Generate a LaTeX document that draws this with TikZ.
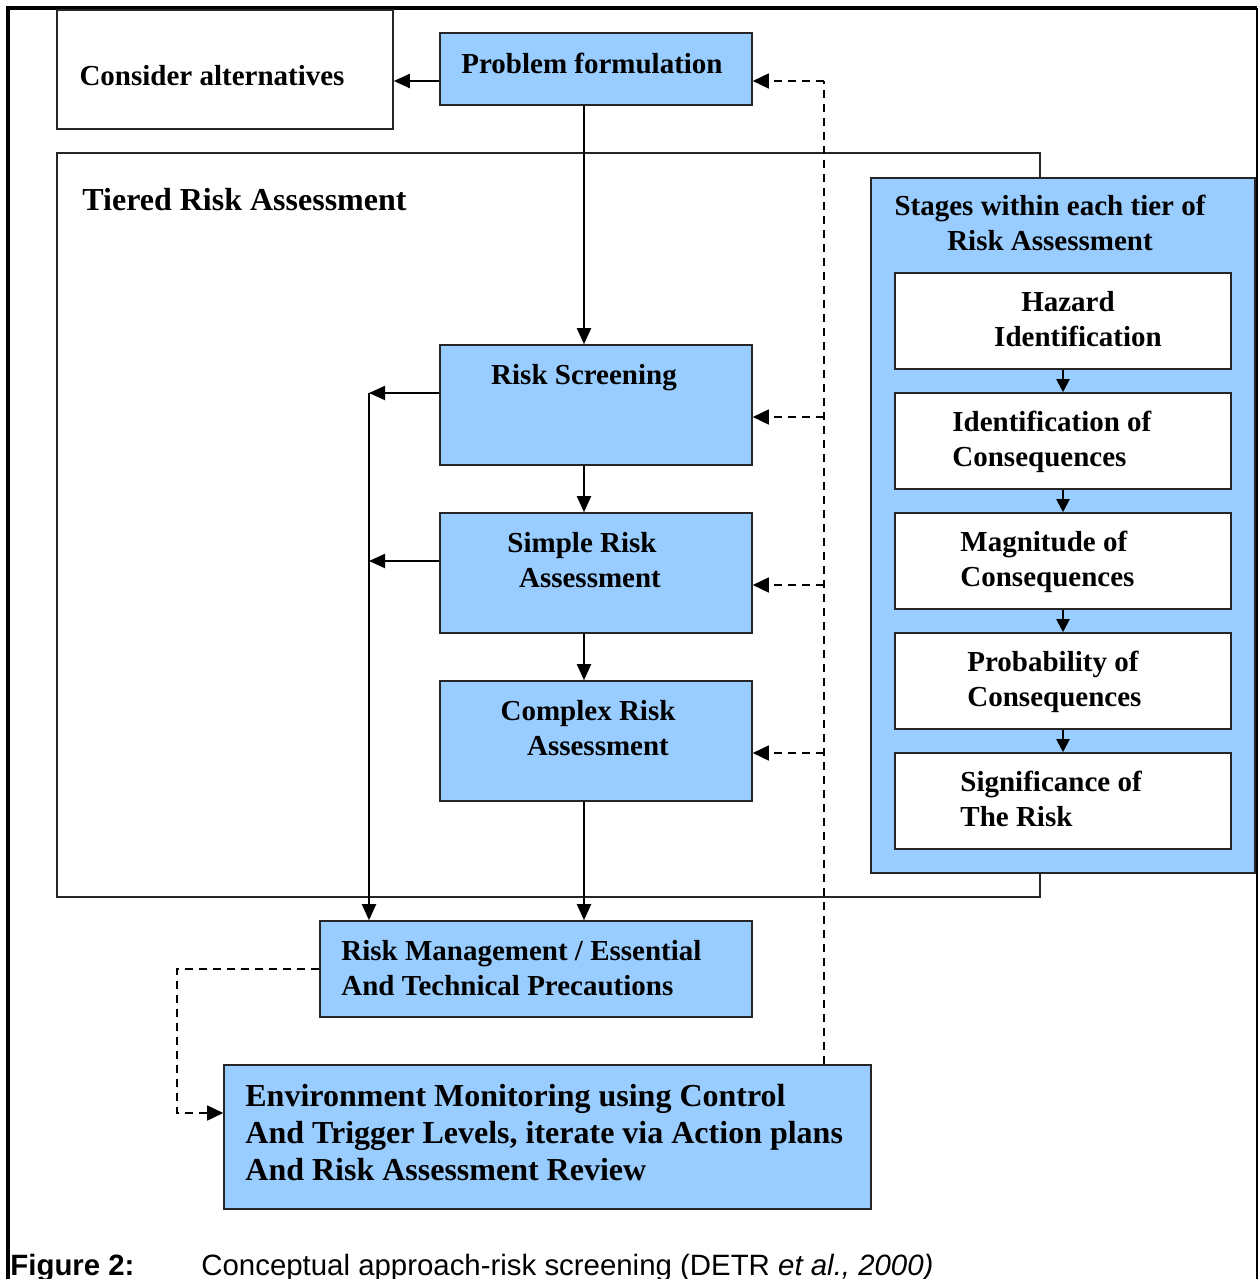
\documentclass[tikz,border=0pt]{standalone}
\usepackage{fontspec}
\setmainfont{Liberation Serif}
\setsansfont{Liberation Sans}
\usetikzlibrary{arrows.meta,calc}
\definecolor{boxblue}{RGB}{153,204,255}
\tikzset{
  frameline/.style={line width=1.6pt},
  bluebox/.style={draw=black!85, line width=0.8pt, fill=boxblue, inner sep=0pt},
  whitebox/.style={draw=black!85, line width=0.8pt, fill=white, inner sep=0pt},
  txt/.style={font=\bfseries\fontsize{14.5}{17.5}\selectfont, inner sep=0pt},
  bigtxt/.style={font=\bfseries\fontsize{16}{18.5}\selectfont, inner sep=0pt},
  arr/.style={line width=1pt, -{Triangle[length=8pt,width=7pt]}},
  smallarr/.style={line width=1pt, -{Triangle[length=6.5pt,width=6.5pt]}},
  dasharr/.style={line width=0.8pt, dash pattern=on 4pt off 3pt, -{Triangle[length=8pt,width=7.5pt]}},
  dashline/.style={line width=0.8pt, dash pattern=on 4pt off 3pt},
  captxt/.style={font=\sffamily\fontsize{14.7}{17}\selectfont, inner sep=0pt, anchor=base west}
}
\begin{document}
\begin{tikzpicture}[x=0.5pt,y=-0.5pt]
\useasboundingbox (0,0) rectangle (1258,1279);
% outer frame
\draw[frameline] (8,1279) -- (8,8) -- (1257,8);
\draw[line width=1pt] (1257,8) -- (1257,1279);

% tiered container
\draw[line width=0.8pt, draw=black!85] (57,153) rectangle (1040,897);
\node[bigtxt, anchor=west] (tiered) at (82,200) {Tiered Risk Assessment};

% stages container
\draw[line width=0.8pt, draw=black!85, fill=boxblue] (871,178) rectangle (1255,873);
\node[txt, align=center] (stagestitle) at (1050,223) {Stages within each tier of\\Risk Assessment};

% top boxes
\node[whitebox, minimum width=168pt, minimum height=59.5pt] (ca) at (225,69.5) {};
\node[txt] (catxt) at (212,76) {Consider alternatives};
\node[bluebox, minimum width=156pt, minimum height=36pt] (pf) at (596,69) {};
\node[txt] (pftxt) at (592,63) {Problem formulation};

% tiers
\node[bluebox, minimum width=156pt, minimum height=60pt] (rs) at (596,405) {};
\node[txt] (rstxt) at (584,378) {Risk Screening};
\node[bluebox, minimum width=156pt, minimum height=60pt] (sra) at (596,573) {};
\node[txt, align=center] (sratxt) at (582,560) {Simple Risk\\\hspace*{8pt}Assessment};
\node[bluebox, minimum width=156pt, minimum height=60pt] (cra) at (596,741) {};
\node[txt, align=center] (cratxt) at (588,728) {Complex Risk\\\hspace*{10pt}Assessment};

% risk management & environment
\node[bluebox, minimum width=216pt, minimum height=48pt] (rm) at (536,969) {};
\node[txt, align=left, anchor=west] (rmtxt) at (341,968) {Risk Management / Essential\\And Technical Precautions};
\node[bluebox, minimum width=323.5pt, minimum height=72pt] (env) at (547.5,1137) {};
\node[bigtxt, align=left, anchor=west] (envtxt) at (245,1133) {Environment Monitoring using Control\\And Trigger Levels, iterate via Action plans\\And Risk Assessment Review};

% stages
\node[whitebox, minimum width=168pt, minimum height=48pt] (h1) at (1063,321) {};
\node[txt, align=center] (h1txt) at (1068,319) {Hazard\\\hspace*{10pt}Identification};
\node[whitebox, minimum width=168pt, minimum height=48pt] (h2) at (1063,441) {};
\node[txt, align=left, anchor=west] (h2txt) at (952,442) {Identification of\\Consequences};
\node[whitebox, minimum width=168pt, minimum height=48pt] (h3) at (1063,561) {};
\node[txt, align=left, anchor=west] (h3txt) at (960,562) {Magnitude of\\Consequences};
\node[whitebox, minimum width=168pt, minimum height=48pt] (h4) at (1063,681) {};
\node[txt, align=left, anchor=west] (h4txt) at (967,682) {Probability of\\Consequences};
\node[whitebox, minimum width=168pt, minimum height=48pt] (h5) at (1063,801) {};
\node[txt, align=left, anchor=west] (h5txt) at (960,799) {Significance of\\The Risk};

\draw[smallarr] (h1.south) -- (h2.north);
\draw[smallarr] (h2.south) -- (h3.north);
\draw[smallarr] (h3.south) -- (h4.north);
\draw[smallarr] (h4.south) -- (h5.north);

% solid connectors
\draw[arr] ([yshift=-6pt]pf.west) -- ([yshift=-6pt]pf.west -| ca.east);
\draw[arr] ([xshift=-6pt]pf.south) -- ([xshift=-6pt]rs.north);
\draw[arr] ([xshift=-6pt]rs.south) -- ([xshift=-6pt]sra.north);
\draw[arr] ([xshift=-6pt]sra.south) -- ([xshift=-6pt]cra.north);
\draw[arr] ([xshift=-6pt]cra.south) -- ([xshift=-6pt]cra.south |- rm.north);

\coordinate (j1) at (369,393);
\coordinate (j2) at (369,561);
\draw[arr] (rs.west |- j1) -- (j1);
\draw[arr] (sra.west |- j2) -- (j2);
\draw[arr] (j1) -- (j1 |- rm.north);

% dashed feedback
\coordinate (dtop) at (824,81);
\coordinate (d1) at (824,417);
\coordinate (d2) at (824,585);
\coordinate (d3) at (824,753);
\draw[dashline] (dtop |- env.north) -- (dtop);
\draw[dasharr] (dtop) -- (dtop -| pf.east);
\draw[dasharr] (d1) -- (d1 -| rs.east);
\draw[dasharr] (d2) -- (d2 -| sra.east);
\draw[dasharr] (d3) -- (d3 -| cra.east);

\coordinate (dl1) at (177,969);
\coordinate (dl2) at (177,1113);
\draw[dasharr] (rm.west) -- (dl1) -- (dl2) -- (dl2 -| env.west);

% caption
\node[captxt, font=\sffamily\bfseries\fontsize{14.7}{17}\selectfont] (figlab) at (10,1275) {Figure 2:};
\node[captxt] (figcap) at (201,1275) {Conceptual approach-risk screening (DETR \textit{et al., 2000)}};
\end{tikzpicture}
\end{document}
